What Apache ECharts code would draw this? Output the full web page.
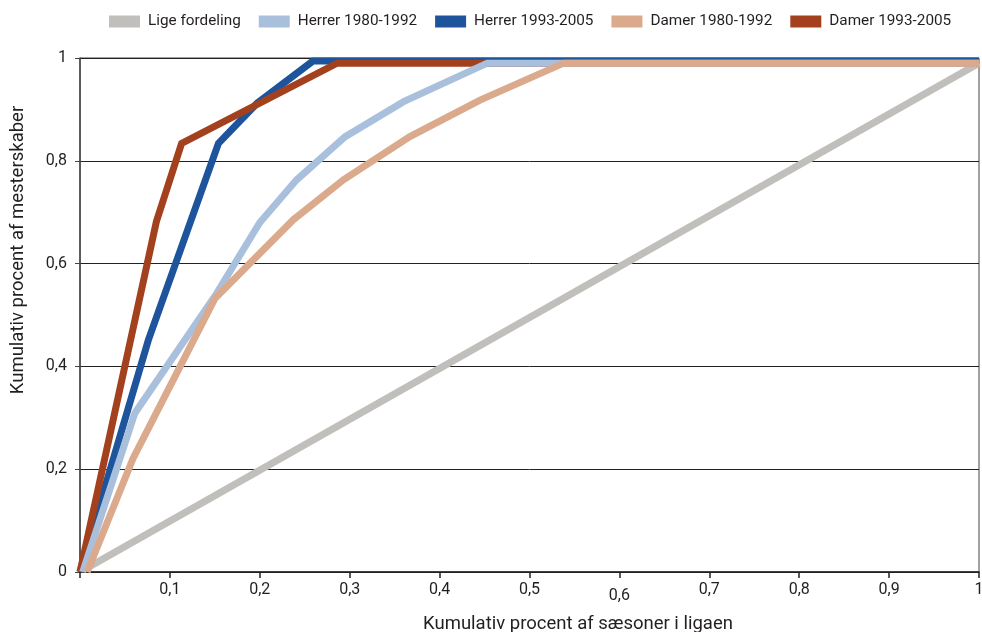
<!DOCTYPE html>
<html>
<head>
<meta charset="utf-8">
<script src="https://cdn.jsdelivr.net/npm/echarts@6/dist/echarts.min.js"></script>
<style>
html,body{margin:0;padding:0;background:#fff;}
#chart{width:982px;height:632px;}
</style>
</head>
<body>
<div id="chart"></div>
<script>
// Series names (legend order)
const seriesNames = ['Lige fordeling', 'Herrer 1980-1992', 'Herrer 1993-2005', 'Damer 1980-1992', 'Damer 1993-2005'];
const seriesColors = ['#C0BFBB', '#A9C0DD', '#1D549C', '#DBA98C', '#A3401E'];

// Lige fordeling (equal distribution)
const ligeX = [0.01, 1];
const ligeY = [0.01, 0.99];

// Herrer 1980-1992
const herrer80X = [0.003, 0.061, 0.152, 0.2, 0.241, 0.295, 0.36, 0.453, 1];
const herrer80Y = [0, 0.309, 0.542, 0.68, 0.763, 0.847, 0.915, 0.99, 0.99];

// Herrer 1993-2005
const herrer93X = [0, 0.076, 0.154, 0.197, 0.259, 1];
const herrer93Y = [0, 0.451, 0.834, 0.912, 0.994, 0.994];

// Damer 1980-1992
const damer80X = [0.008, 0.059, 0.150, 0.237, 0.293, 0.367, 0.445, 0.538, 1];
const damer80Y = [0, 0.221, 0.532, 0.685, 0.763, 0.847, 0.918, 0.99, 0.99];

// Damer 1993-2005
const damer93X = [0, 0.085, 0.113, 0.286, 1];
const damer93Y = [0, 0.682, 0.834, 0.99, 0.99];

// Axis ticks
const xTickValues = [0.1, 0.2, 0.3, 0.4, 0.5, 0.6, 0.7, 0.8, 0.9, 1];
const yTickValues = [0, 0.2, 0.4, 0.6, 0.8, 1];

const xAxisTitle = 'Kumulativ procent af sæsoner i ligaen';
const yAxisTitle = 'Kumulativ procent af mesterskaber';

function pairs(xs, ys) { return xs.map((x, i) => [x, ys[i]]); }

const seriesData = [
  pairs(ligeX, ligeY),
  pairs(herrer80X, herrer80Y),
  pairs(herrer93X, herrer93Y),
  pairs(damer80X, damer80Y),
  pairs(damer93X, damer93Y)
];
// stacking order (bottom to top) as seen in the picture
const zOrder = [2, 5, 3, 6, 4];

function fmt(v) {
  const r = Math.round(v * 10) / 10;
  if (r === 0) return '';
  if (r === 1) return '1';
  return String(r).replace('.', ',');
}

const FONT = 'Roboto';
const chart = echarts.init(document.getElementById('chart'));
chart.setOption({
  animation: false,
  backgroundColor: '#fff',
  textStyle: { fontFamily: FONT, color: '#231F20' },
  legend: {
    top: 9,
    left: 104,
    icon: 'rect',
    itemWidth: 31,
    itemHeight: 12,
    itemGap: 18,
    data: seriesNames,
    textStyle: { fontFamily: FONT, fontSize: 15.3, color: '#231F20', padding: [0, 0, 0, 3] }
  },
  grid: {
    left: 80, right: 3, top: 58, bottom: 60,
    outerBoundsMode: 'none',
    containLabel: false,
    show: true, borderColor: '#444', borderWidth: 1
  },
  xAxis: {
    type: 'value', min: 0, max: 1, interval: 0.1,
    name: xAxisTitle,
    nameLocation: 'middle',
    nameGap: 43,
    nameTextStyle: { fontFamily: FONT, fontSize: 18.5, color: '#231F20', padding: [0, 0, 0, 97] },
    axisLine: { show: true, lineStyle: { color: '#222', width: 1.5 } },
    axisTick: { show: true, length: 6, inside: false, lineStyle: { color: '#222', width: 1.5 } },
    splitLine: { show: false },
    axisLabel: {
      margin: 10, fontSize: 16, color: '#231F20', fontFamily: FONT,
      formatter: function (v) {
        const s = fmt(v);
        if (Math.abs(v - 0.6) < 1e-6) return '{low|' + s + '}';
        return s;
      },
      rich: { low: { lineHeight: 28, fontSize: 16, fontFamily: FONT, color: '#231F20' } }
    }
  },
  yAxis: {
    type: 'value', min: 0, max: 1, interval: 0.2,
    name: yAxisTitle,
    nameLocation: 'middle',
    nameGap: 52,
    nameRotate: 90,
    nameTextStyle: { fontFamily: FONT, fontSize: 18.5, color: '#231F20', padding: [0, 0, 0, 130] },
    axisLine: { show: true, lineStyle: { color: '#444', width: 1.5 } },
    axisTick: { show: true, length: 5, inside: false, lineStyle: { color: '#444' } },
    splitLine: { show: true, lineStyle: { color: '#222', width: 1 } },
    axisLabel: {
      margin: 13, fontSize: 16, color: '#231F20', fontFamily: FONT,
      formatter: function (v) {
        const r = Math.round(v * 10) / 10;
        if (r === 0) return '0';
        if (r === 1) return '1';
        return String(r).replace('.', ',');
      }
    }
  },
  series: seriesNames.map((name, i) => ({
    name: name,
    type: 'line',
    data: seriesData[i],
    symbol: 'none',
    z: zOrder[i],
    lineStyle: { color: seriesColors[i], width: 7, join: 'miter' },
    itemStyle: { color: seriesColors[i] },
    emphasis: { disabled: true }
  }))
});
</script>
</body>
</html>
